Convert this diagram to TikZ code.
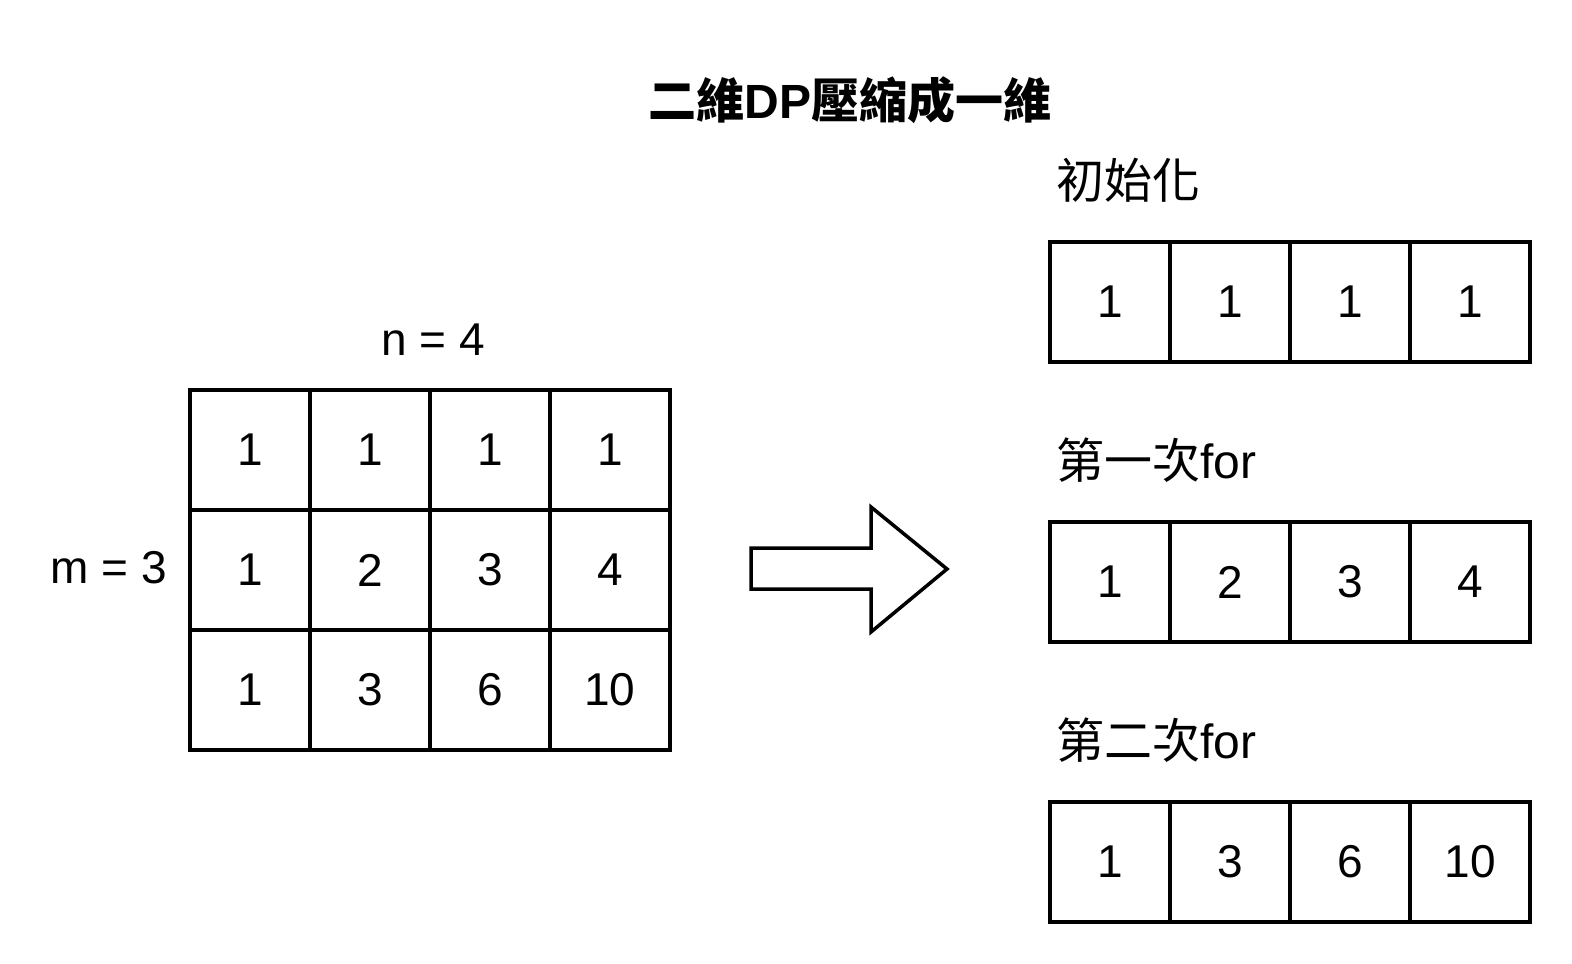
\documentclass[tikz,border=0pt]{standalone}
\usepackage{fontspec}
\setmainfont{Liberation Sans}
\newfontfamily\cjk{Noto Sans CJK TC}
\begin{document}
\begin{tikzpicture}[x=1pt,y=-1pt,
  cell/.style={draw,line width=3.5pt,minimum width=120pt,minimum height=120pt,inner sep=0pt,font=\fontsize{46}{50}\selectfont},
  lbl/.style={inner sep=0pt,font=\fontsize{46}{50}\selectfont},
  clbl/.style={inner sep=0pt,font=\fontsize{48}{52}\selectfont},
  ttl/.style={inner sep=0pt,font=\fontsize{48}{54}\selectfont\bfseries},
  bigarrow/.style={draw,line width=3.5pt,line join=miter,fill=white}]
\useasboundingbox (0,0) rectangle (1572,964);
\node[ttl] (title) at (850,100) {{\cjk 二維}DP{\cjk 壓縮成一維}};
% 2D grid
\foreach \r/\vals in {0/{1,1,1,1},1/{1,2,3,4},2/{1,3,6,10}}{
  \foreach \v [count=\c from 0] in \vals{
    \node[cell] (g\r\c) at (250+120*\c,450+120*\r) {\v};
  }
}
\node[lbl] (nlab) at (433,340) {n = 4};
\node[lbl] (mlab) at (109,568) {m = 3};
% arrow
\path[bigarrow] (751,548) coordinate (a1) -- (871,548) -- (871,507) -- (947,569) coordinate (tip) -- (871,632) -- (871,589) -- (751,589) -- cycle;
% 1D arrays
\foreach \r/\vals/\y in {0/{1,1,1,1}/302,1/{1,2,3,4}/582,2/{1,3,6,10}/862}{
  \foreach \v [count=\c from 0] in \vals{
    \node[cell] (d\r\c) at (1110+120*\c,\y) {\v};
  }
}
\node[clbl,anchor=west] (l0) at (1056,180) {\cjk 初始化};
\node[clbl,anchor=west] (l1) at (1056,460) {{\cjk 第一次}for};
\node[clbl,anchor=west] (l2) at (1056,740) {{\cjk 第二次}for};
\end{tikzpicture}
\end{document}
